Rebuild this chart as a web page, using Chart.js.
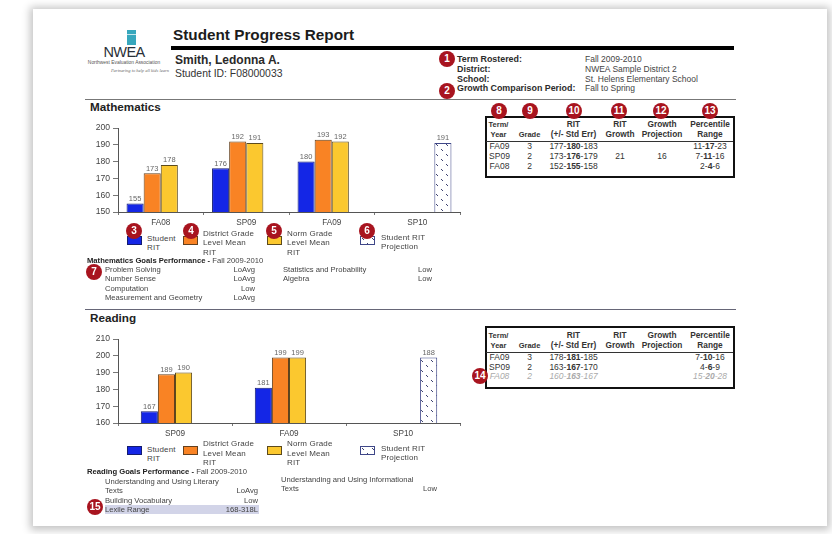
<!DOCTYPE html>
<html>
<head>
<meta charset="utf-8">
<script src="https://cdn.jsdelivr.net/npm/chart.js@4"></script>
<style>
html, body { margin: 0; padding: 0; background: #fff; }
body { width: 832px; height: 534px; overflow: hidden; position: relative; font-family: "Liberation Sans", sans-serif; color: #333; filter: blur(0.35px); }
#page { position: absolute; left: 33px; top: 9px; width: 794px; height: 517px; background: #fff; box-shadow: 0 1px 8px 3px #c4c4c4; }
.t { position: absolute; white-space: nowrap; line-height: 1; transform: translateY(-50%); }
.badge { position: absolute; width: 16px; height: 16px; margin: -8px 0 0 -8px; border-radius: 50%; background: #a8141f; color: #fff; font: bold 10px/16px "Liberation Sans", sans-serif; text-align: center; }
.box { position: absolute; }
canvas.chart { position: absolute; }
</style>
</head>
<body>
<div id="page"></div>
<canvas id="mathChart" class="chart" style="left:80px;top:118px;width:384px;height:114px"></canvas>
<canvas id="readChart" class="chart" style="left:80px;top:329px;width:384px;height:114px"></canvas>
<script>
// chart data
let mathTerms = ["FA08", "SP09", "FA09", "SP10"];
let mathStudent = [155, 176, 180, null];
let mathDistrict = [173, 192, 193, null];
let mathNorm = [178, 191, 192, null];
let mathProjection = [null, null, null, 191];
let mathTicks = [150, 160, 170, 180, 190, 200];

let readTerms = ["SP09", "FA09", "SP10"];
let readStudent = [167, 181, null];
let readDistrict = [189, 199, null];
let readNorm = [190, 199, null];
let readProjection = [null, null, 199];
let readTicks = [160, 170, 180, 190, 200, 210];

// the printed label on this bar does not match its height in the report
let readProjectionLabel = "188";

let seriesNames = ["Student RIT", "District Grade Level Mean RIT", "Norm Grade Level Mean RIT", "Student RIT Projection"];

// table rows
let tableHead = [["Term/", "Year"], ["", "Grade"], ["RIT", "(+/- Std Err)"], ["RIT", "Growth"], ["Growth", "Projection"], ["Percentile", "Range"]];
let mathRows = [
    ["FA09", "3", "177-<b>180</b>-183", "", "", "11-<b>17</b>-23"],
    ["SP09", "2", "173-<b>176</b>-179", "21", "16", "7-<b>11</b>-16"],
    ["FA08", "2", "152-<b>155</b>-158", "", "", "2-<b>4</b>-6"]
];
let readRows = [
    ["FA09", "3", "178-<b>181</b>-185", "", "", "7-<b>10</b>-16"],
    ["SP09", "2", "163-<b>167</b>-170", "", "", "4-<b>6</b>-9"],
    ["FA08", "2", "160-<b>163</b>-167", "", "", "15-<b>20</b>-28"]
];

let mathGoals = [["Problem Solving", "LoAvg"], ["Number Sense", "LoAvg"], ["Computation", "Low"], ["Measurement and Geometry", "LoAvg"]];
let mathGoals2 = [["Statistics and Probability", "Low"], ["Algebra", "Low"]];

// helpers
function txt(x, y, s, css) {
    let d = document.createElement("div");
    d.className = "t";
    d.innerHTML = s;
    d.style.cssText += css || "";
    d.style.left = x + "px";
    d.style.top = y + "px";
    document.body.appendChild(d);
    return d;
}
function box(x, y, w, h, css) {
    let d = document.createElement("div");
    d.className = "box";
    d.style.cssText += css;
    d.style.left = x + "px";
    d.style.top = y + "px";
    d.style.width = w + "px";
    d.style.height = h + "px";
    document.body.appendChild(d);
}
function badge(x, y, n) {
    let d = document.createElement("div");
    d.className = "badge";
    d.textContent = n;
    d.style.left = x + "px";
    d.style.top = y + "px";
    document.body.appendChild(d);
}
function center(x, y, s, css) {
    return txt(x, y, s, "transform:translate(-50%,-50%);text-align:center;" + (css || ""));
}
function right(x, y, s, css) {
    return txt(x, y, s, "transform:translate(-100%,-50%);" + (css || ""));
}

// hatch fill of the projection bars
function hatch() {
    let c = document.createElement("canvas");
    c.width = 10;
    c.height = 10;
    let g = c.getContext("2d");
    g.fillStyle = "#fff";
    g.fillRect(0, 0, 10, 10);
    g.strokeStyle = "#3c4270";
    g.lineWidth = 1;
    g.beginPath();
    g.moveTo(1, 1);
    g.lineTo(3, 3);
    g.moveTo(6, 6);
    g.lineTo(8, 8);
    g.stroke();
    return c;
}
let hatchCanvas = hatch();
let hatchFill = hatchCanvas.getContext("2d").createPattern(hatchCanvas, "repeat");

// number above each bar
let barLabels = {
    id: "barLabels",
    afterDatasetsDraw(chart) {
        let ctx = chart.ctx;
        ctx.save();
        ctx.font = "7.5px 'Liberation Sans', sans-serif";
        ctx.fillStyle = "#666";
        ctx.textAlign = "center";
        ctx.textBaseline = "bottom";
        chart.data.datasets.forEach(function (ds, i) {
            chart.getDatasetMeta(i).data.forEach(function (bar, j) {
                if (ds.data[j] === null) return;
                let label = ds.labels ? ds.labels[j] : ds.data[j];
                ctx.fillText(label, bar.x, bar.y - 1);
            });
        });
        ctx.restore();
    }
};

function drawChart(id, terms, student, district, norm, projection, ticks, catPercent, projLabels) {
    new Chart(id, {
        type: "bar",
        plugins: [barLabels],
        data: {
            labels: terms,
            datasets: [
                { label: seriesNames[0], data: student, backgroundColor: "#1426e6", borderColor: "#141c70", borderWidth: 1 },
                { label: seriesNames[1], data: district, backgroundColor: "#f98324", borderColor: "#63401e", borderWidth: 1 },
                { label: seriesNames[2], data: norm, backgroundColor: "#fbc82f", borderColor: "#5c4a1c", borderWidth: 1 },
                { label: seriesNames[3], data: projection, labels: projLabels, backgroundColor: hatchFill, borderColor: "#3f4788", borderWidth: 1 }
            ]
        },
        options: {
            responsive: false,
            animation: false,
            devicePixelRatio: 1,
            categoryPercentage: catPercent,
            barPercentage: 1,
            layout: { padding: { top: 10, right: 4, left: 0, bottom: 0 } },
            plugins: { legend: { display: false }, tooltip: { enabled: false } },
            scales: {
                x: {
                    grid: { drawOnChartArea: false, tickLength: 3, color: "#777" },
                    border: { color: "#555" },
                    ticks: { color: "#444", font: { family: "Liberation Sans", size: 8.2 }, padding: 3, maxRotation: 0 },
                    afterFit(scale) { scale.height = 20; }
                },
                y: {
                    min: ticks[0],
                    max: ticks[ticks.length - 1],
                    afterBuildTicks(scale) { scale.ticks = ticks.map(function (v) { return { value: v }; }); },
                    grid: { drawOnChartArea: false, tickLength: 5, color: "#777" },
                    border: { color: "#555" },
                    ticks: { color: "#444", font: { family: "Liberation Sans", size: 8.6 }, padding: 3 },
                    afterFit(scale) { scale.width = 38; }
                }
            }
        }
    });
}
function sizeCanvas(id) {
    let c = document.getElementById(id);
    c.width = 384;
    c.height = 114;
}
sizeCanvas("mathChart");
sizeCanvas("readChart");
drawChart("mathChart", mathTerms, mathStudent, mathDistrict, mathNorm, mathProjection, mathTicks, 0.8);
drawChart("readChart", readTerms, readStudent, readDistrict, readNorm, readProjection, readTicks, 0.6, [null, null, readProjectionLabel]);

// page header
txt(173, 35, "Student Progress Report", "font:bold 15.3px 'Liberation Sans';color:#1c1c1c");
box(171, 46, 563, 4, "background:#000");
txt(175, 60, "Smith, Ledonna A.", "font:bold 12px 'Liberation Sans';color:#2a2a2a");
txt(175, 73, "Student ID: F08000033", "font:10.4px 'Liberation Sans';color:#333");
box(85, 99, 651, 1, "background:#777");
box(85, 309, 651, 1, "background:#667");

// logo
box(127, 30, 9, 15, "background:#37a7bd");
box(127, 34, 9, 1, "background:#c4e6ec");
center(124, 52, "NWEA", "font:14.5px 'Liberation Sans';color:#2a3038;letter-spacing:-0.6px");
center(124, 62, "Northwest Evaluation Association", "font:4.9px 'Liberation Sans';color:#555");
right(169, 70, "Partnering to help all kids learn", "font:italic 4.5px 'Liberation Serif';color:#666");

// header details
let headKeys = ["Term Rostered:", "District:", "School:", "Growth Comparison Period:"];
let headVals = ["Fall 2009-2010", "NWEA Sample District 2", "St. Helens Elementary School", "Fall to Spring"];
headKeys.forEach(function (k, i) {
    txt(457, 59 + i * 9.8, k, "font:bold 8.9px 'Liberation Sans';color:#2c2c2c");
    txt(585, 59 + i * 9.8, headVals[i], "font:8.5px 'Liberation Sans';color:#444");
});
badge(447, 59, 1);
badge(447, 91, 2);

// sections
txt(90, 106, "Mathematics", "font:bold 11.7px 'Liberation Sans';color:#222");
txt(90, 317, "Reading", "font:bold 11.7px 'Liberation Sans';color:#222");

// legends
function legend(top, swatchY) {
    let sw = [
        [127, "background:#1426e6;border:1px solid #141c70"],
        [183, "background:#f98324;border:1px solid #63401e"],
        [267, "background:#fbc82f;border:1px solid #5c4a1c"],
        [360, "background:url(" + hatchCanvas.toDataURL() + ");border:1px solid #3f4788"]
    ];
    sw.forEach(function (s) { box(s[0], swatchY, 13, 7, s[1]); });
    let css = "font:8px 'Liberation Sans';color:#444;letter-spacing:0.15px";
    txt(147, top + 5.5, "Student", css);
    txt(147, top + 14.5, "RIT", css);
    txt(203, top, "District Grade", css);
    txt(203, top + 9.5, "Level Mean", css);
    txt(203, top + 19, "RIT", css);
    txt(287, top, "Norm Grade", css);
    txt(287, top + 9.5, "Level Mean", css);
    txt(287, top + 19, "RIT", css);
    txt(381, top + 4.5, "Student RIT", css);
    txt(381, top + 13.5, "Projection", css);
}
legend(232.5, 236);
legend(443, 446);
badge(134, 231, 3);
badge(191, 231, 4);
badge(274, 231, 5);
badge(367, 231, 6);

// goals
let goalCss = "font:7.65px 'Liberation Sans';color:#444";
txt(87, 260, "<b style='color:#222'>Mathematics Goals Performance - </b>Fall 2009-2010", goalCss);
mathGoals.forEach(function (g, i) {
    txt(105, 268.5 + i * 9.6, g[0], goalCss);
    right(255, 268.5 + i * 9.6, g[1], goalCss);
});
mathGoals2.forEach(function (g, i) {
    txt(283, 268.5 + i * 9.6, g[0], goalCss);
    right(432, 268.5 + i * 9.6, g[1], goalCss);
});
badge(94, 272, 7);

txt(87, 471, "<b style='color:#222'>Reading Goals Performance - </b>Fall 2009-2010", goalCss);
txt(105, 481, "Understanding and Using Literary", goalCss);
txt(105, 490, "Texts", goalCss);
right(258, 490, "LoAvg", goalCss);
txt(105, 499.5, "Building Vocabulary", goalCss);
right(258, 499.5, "Low", goalCss);
box(105, 504.5, 154, 9, "background:#d2d4e8");
txt(105, 509, "Lexile Range", goalCss);
right(258, 509, "168-318L", goalCss);
txt(281, 479, "Understanding and Using Informational", goalCss);
txt(281, 488, "Texts", goalCss);
right(437, 488, "Low", goalCss);
badge(95, 507, 15);

// tables
let colX = [499.5, 529.5, 573.5, 620, 662, 710];
function table(top, h, lineY, rows, rowY, rowStep, grayLast) {
    box(485, top, 245.5, h, "border:2px solid #111");
    box(486, lineY, 247, 1, "background:#333");
    tableHead.forEach(function (lines, c) {
        let size = c === 0 || c === 1 ? 7.5 : 8.3;
        center(colX[c] - (c === 0 ? 1 : 0), lineY - 17, lines[0], "font:bold " + size + "px 'Liberation Sans';color:#333");
        center(colX[c] - (c === 0 ? 1 : 0), lineY - 7.5, lines[1], "font:bold " + size + "px 'Liberation Sans';color:#333");
    });
    rows.forEach(function (r, i) {
        r.forEach(function (v, c) {
            let gray = grayLast && i === rows.length - 1;
            center(colX[c], rowY + i * rowStep, v, "font:" + (gray ? "italic " : "") + "8.5px 'Liberation Sans';color:" + (gray ? "#aaa" : "#333"));
        });
    });
}
table(116, 58, 141, mathRows, 146, 10);
table(326, 59, 352, readRows, 357, 9.7, true);

[499, 530, 574, 619, 661, 710].forEach(function (x, i) {
    badge(x, 111, 8 + i);
});
badge(480, 376, 14);
</script>
</body>
</html>
